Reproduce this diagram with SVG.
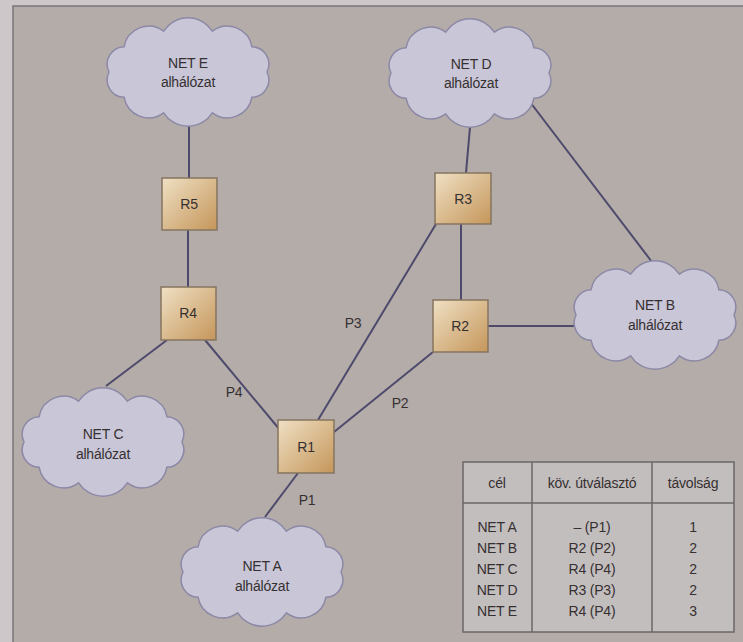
<svg xmlns="http://www.w3.org/2000/svg" width="743" height="642" viewBox="0 0 743 642">
<style>
text{font-family:"Liberation Sans",Arial,sans-serif;font-size:14px;fill:#363031;text-anchor:middle;letter-spacing:-0.2px}
.cloud{fill:#c9c6d7;stroke:#8c88a6;stroke-width:1.5}
.router{fill:url(#rg);stroke:#85745f;stroke-width:1.5}
.conn line{stroke:#4e4a6c;stroke-width:2}
.tbl{fill:#c3bebe;stroke:#6b6667;stroke-width:1.5}
</style>
<defs>
<linearGradient id="rg" x1="0" y1="0" x2="1" y2="1">
<stop offset="0" stop-color="#efe0c4"/>
<stop offset="1" stop-color="#c5965a"/>
</linearGradient>
<path id="cl" d="M-79,0 A17.5,17.5 0 0 1 -63.9,-25.3 A25,25 0 0 1 -24.4,-40.9 A29,29 0 0 1 24.4,-40.9 A25,25 0 0 1 63.9,-25.3 A17.5,17.5 0 0 1 79,0 A17.5,17.5 0 0 1 63.9,25.3 A25,25 0 0 1 24.4,40.9 A29,29 0 0 1 -24.4,40.9 A25,25 0 0 1 -63.9,25.3 A17.5,17.5 0 0 1 -79,0 Z"/>
</defs>
<rect x="0" y="0" width="743" height="642" fill="#cdc7c9"/>
<rect x="13" y="6" width="740" height="650" fill="#b4aca9" stroke="#7a7377" stroke-width="1.5"/>
<g class="conn" id="connectors">
<line x1="189" y1="126" x2="189" y2="178"/>
<line x1="188" y1="230" x2="188" y2="287"/>
<line x1="167" y1="340" x2="106" y2="386"/>
<line x1="205" y1="340" x2="280" y2="430"/>
<line x1="298" y1="473" x2="265" y2="517"/>
<line x1="318" y1="420" x2="436" y2="224"/>
<line x1="334" y1="432" x2="433" y2="352"/>
<line x1="461" y1="224" x2="461" y2="300"/>
<line x1="488" y1="326" x2="576" y2="326"/>
<line x1="470" y1="127" x2="466" y2="173"/>
<line x1="527" y1="98" x2="652" y2="262"/>
</g>
<g id="netE"><use href="#cl" class="cloud" transform="translate(188,72)"/><text x="188" y="68">NET E</text><text x="188" y="87">alhálózat</text></g>
<g id="netD"><use href="#cl" class="cloud" transform="translate(470,73)"/><text x="471" y="69">NET D</text><text x="471" y="88">alhálózat</text></g>
<g id="netB"><use href="#cl" class="cloud" transform="translate(655,315)"/><text x="655" y="310">NET B</text><text x="655" y="330">alhálózat</text></g>
<g id="netC"><use href="#cl" class="cloud" transform="translate(103,442)"/><text x="103" y="439">NET C</text><text x="103" y="459">alhálózat</text></g>
<g id="netA"><use href="#cl" class="cloud" transform="translate(262,572)"/><text x="262" y="571">NET A</text><text x="262" y="591">alhálózat</text></g>
<g id="R5"><rect class="router" x="162" y="178" width="55" height="52"/><text x="189" y="209">R5</text></g>
<g id="R4"><rect class="router" x="161" y="287" width="55" height="53"/><text x="188" y="318">R4</text></g>
<g id="R3"><rect class="router" x="435" y="173" width="56" height="51"/><text x="463" y="204">R3</text></g>
<g id="R2"><rect class="router" x="433" y="300" width="55" height="52"/><text x="460" y="331">R2</text></g>
<g id="R1"><rect class="router" x="278" y="420" width="56" height="53"/><text x="306" y="452">R1</text></g>
<g id="labels">
<text x="353" y="328">P3</text>
<text x="234" y="397">P4</text>
<text x="400" y="408">P2</text>
<text x="307" y="505">P1</text>
</g>
<g id="table">
<rect class="tbl" x="463" y="462" width="271" height="170"/>
<line x1="532" y1="462" x2="532" y2="632" stroke="#6b6667" stroke-width="1.5"/>
<line x1="652" y1="462" x2="652" y2="632" stroke="#6b6667" stroke-width="1.5"/>
<line x1="463" y1="503" x2="734" y2="503" stroke="#6b6667" stroke-width="1.5"/>
<text x="497" y="488">cél</text><text x="592" y="488">köv. útválasztó</text><text x="693" y="488">távolság</text>
<text x="497" y="532">NET A</text><text x="592" y="532">– (P1)</text><text x="693" y="532">1</text>
<text x="497" y="553">NET B</text><text x="592" y="553">R2 (P2)</text><text x="693" y="553">2</text>
<text x="497" y="574">NET C</text><text x="592" y="574">R4 (P4)</text><text x="693" y="574">2</text>
<text x="497" y="595">NET D</text><text x="592" y="595">R3 (P3)</text><text x="693" y="595">2</text>
<text x="497" y="616">NET E</text><text x="592" y="616">R4 (P4)</text><text x="693" y="616">3</text>
</g>
</svg>
